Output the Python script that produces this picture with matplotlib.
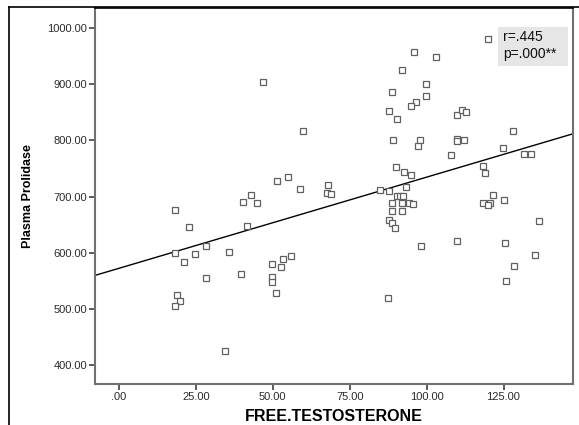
import matplotlib.pyplot as plt
import numpy as np
from matplotlib.lines import Line2D
from matplotlib.patches import Rectangle

# values
free_testosterone = [18.3, 22.9, 28.4, 18.3, 24.8, 21.2, 28.4, 18.9, 19.9, 18.3,
                     34.6, 46.7, 59.8, 51.5, 54.8, 58.7, 42.8, 40.4, 45.0, 67.8,
                     67.7, 68.9, 41.7, 35.9, 39.8, 49.8, 53.2, 55.8, 52.8, 49.8,
                     49.8, 51.1, 95.9, 103.1, 91.9, 99.8, 88.9, 99.8, 96.7, 94.8,
                     87.8, 90.3, 109.8, 111.4, 112.8, 89.1, 97.9, 97.1, 109.8, 109.8,
                     112.0, 107.9, 89.9, 92.8, 94.9, 93.4, 84.9, 87.9, 90.3, 91.4,
                     92.2, 88.9, 91.9, 94.3, 95.5, 88.7, 91.9, 87.9, 88.7, 89.8,
                     98.2, 109.9, 87.3, 119.9, 128.0, 124.9, 131.5, 133.8, 118.4, 119.0,
                     121.5, 125.2, 118.4, 120.6, 119.9, 136.6, 125.5, 135.3, 128.5, 125.8]
plasma_prolidase = [676, 645, 612, 600, 597, 583, 555, 525, 514, 505,
                    425, 905, 816, 727, 734, 714, 702, 690, 689, 720,
                    706, 704, 648, 601, 562, 580, 589, 594, 574, 557,
                    548, 529, 957, 949, 926, 900, 886, 879, 868, 861,
                    852, 838, 846, 854, 850, 800, 800, 790, 803, 799,
                    800, 774, 752, 743, 739, 717, 711, 710, 701, 701,
                    701, 689, 689, 689, 686, 674, 675, 659, 652, 644,
                    611, 621, 520, 981, 816, 787, 775, 775, 754, 742,
                    702, 694, 689, 689, 685, 656, 617, 595, 577, 550]

x_ticks = [0, 25, 50, 75, 100, 125]
x_tick_labels = [".00", "25.00", "50.00", "75.00", "100.00", "125.00"]
y_ticks = [400, 500, 600, 700, 800, 900, 1000]
y_tick_labels = ["400.00", "500.00", "600.00", "700.00", "800.00", "900.00", "1000.00"]
r_text = "r=.445"
p_text = "p=.000**"

plt.rcParams['font.family'] = ['Liberation Sans', 'DejaVu Sans']

fig = plt.figure(figsize=(5.79, 4.25), dpi=100)
ax = fig.add_axes([0.1641, 0.0965, 0.8256, 0.8847])

x = np.array(free_testosterone)
y = np.array(plasma_prolidase)
ax.plot(x, y, 's', markersize=4.3, markerfacecolor='white',
        markeredgecolor='#606060', markeredgewidth=0.9, zorder=3)

# least squares fit line
slope, intercept = np.polyfit(x, y, 1)
ax.axline((0, intercept), slope=slope, color='black', linewidth=1.0, zorder=2)

ax.set_xlim(-7.8, 147.6)
ax.set_ylim(366, 1036)
ax.set_xticks(x_ticks)
ax.set_xticklabels(x_tick_labels)
ax.set_yticks(y_ticks)
ax.set_yticklabels(y_tick_labels)
ax.tick_params(axis='both', direction='out', length=4, width=1.2, color='#404040',
               labelsize=8, labelcolor='#2a2a2a', pad=1.5)

for side in ['left', 'bottom', 'right']:
    ax.spines[side].set_color('#707070')
    ax.spines[side].set_linewidth(1.5)
ax.spines['top'].set_color('black')
ax.spines['top'].set_linewidth(1.2)

ax.set_xlabel("FREE.TESTOSTERONE", fontsize=11.5, fontweight='bold', labelpad=5)
ax.set_ylabel("Plasma Prolidase", fontsize=9, fontweight='bold', labelpad=10)

# stats box
ax.add_patch(Rectangle((0.843, 0.846), 0.147, 0.103, transform=ax.transAxes,
                       facecolor='#e6e6e6', edgecolor='none', zorder=1))
ax.text(0.8536, 0.922, r_text, transform=ax.transAxes, fontsize=10,
        va='center', ha='left', color='#111111', zorder=4)
ax.text(0.8536, 0.877, p_text, transform=ax.transAxes, fontsize=10,
        va='center', ha='left', color='#111111', zorder=4)

# outer chart frame
fig.add_artist(Line2D([9 / 579, 9 / 579], [0, 1 - 7 / 425], color='black', linewidth=1.2))
fig.add_artist(Line2D([9 / 579, 1], [1 - 7 / 425, 1 - 7 / 425], color='black', linewidth=1.2))

plt.savefig("out.png")
